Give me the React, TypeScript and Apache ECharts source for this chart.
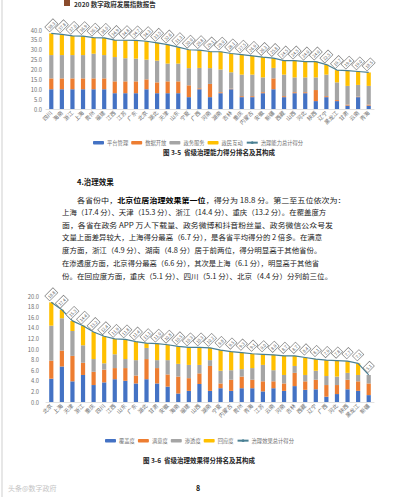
import React, { useEffect, useRef } from "react";
import * as echarts from "echarts";

// ---------- Chart 1: 省级治理能力 ----------
const cats1 = ["四川","海南","浙江","上海","贵州","福建","江西","江苏","广东","北京","湖北","天津","山东","宁夏","广西","河南","湖南","吉林","重庆","内蒙古","安徽","新疆","西藏","山西","河北","陕西","辽宁","黑龙江","甘肃","云南","青海"];
const platform1 = [10,10,10,10,10,10,8,8,8,10,8,8,8,6,10,6,8,10,6,6,8,10,6,8,8,4,6,4,1.7,6,1.7];
const dataOpen1 = [5.5,5.5,5.5,5.5,5.5,5.5,6,6,6,5,5.5,6,6,6,0.5,6.7,0.5,0.3,0.5,0.5,0.5,5.5,0.5,0.5,0.5,5.6,0.5,0.5,0.5,0.3,0.5];
const service1 = [11.8,11.8,11.8,11.8,12.5,11.8,12.3,11.7,11.5,10,11,9,9,8.7,10.3,8,11.5,8.3,10.9,10.9,7.5,5.3,10.9,7.5,7.5,6.4,10.9,9,9.5,5.9,9.5];
const interact1 = [11,10.5,9.7,9.6,8.1,8.7,8.6,9.1,9.2,9.3,9,9.6,8.3,9.3,9,8.4,9,9.5,10.1,9.5,10.3,5,7.1,8.5,8,8,5.1,6.2,7.7,6.8,6.8];
const yTicks1 = { min: 0, max: 40, interval: 5 };

// ---------- Chart 2: 省级治理效果 ----------
const cats2 = ["北京","上海","天津","浙江","重庆","四川","江西","山东","广东","湖北","甘肃","安徽","海南","福建","山西","湖南","宁夏","内蒙古","贵州","青海","江苏","云南","河南","吉林","西藏","辽宁","广西","河北","陕西","黑龙江","新疆"];
const coverage2 = [4.4,6.7,3.9,5.1,3.2,3.7,4.3,4.0,3.5,4.3,3.5,2.9,1.6,2.1,3.4,2.1,2.6,2.1,2.6,2.6,2.0,2.6,2.1,3.0,2.3,2.4,1.0,1.5,2.4,2.1,1.3];
const satisfaction2 = [3.4,3.0,4.8,2.3,2.5,2.4,2.1,2.4,1.5,3.8,2.9,2.3,3.2,2.4,2.0,4.7,0.9,2.1,2.2,1.6,1.9,1.3,1.4,2.5,1.6,1.8,2.2,1.7,1.8,1.8,2.2];
const penetration2 = [6.6,6.1,4.7,3.3,2.4,1.2,2.6,1.7,2.9,2.1,1.5,2.7,2.4,2.5,1.6,1.1,2.4,1.8,1.4,2.2,3.1,2.1,1.6,1.3,1.2,1.7,1.7,1.6,1.3,1.2,1.6];
const response2 = [4.4,1.6,1.9,3.7,5.1,5.1,2.9,3.7,3.5,0.9,3.1,2.9,3.3,3.3,3.3,2.3,3.9,3.5,3.1,2.7,2.0,2.9,3.6,1.9,3.3,2.2,3.0,3.0,2.2,2.2,0];
const yTicks2 = { min: 0, max: 20, interval: 2 };

const names1 = ["平台管理","数据开放","政务服务","政民互动","治理能力总计得分"];
const names2 = ["覆盖度","满意度","渗透度","回应度","治理效果总计得分"];

const paragraph = [
  "各省份中，{b|北京位居治理效果第一位}，得分为 18.8 分。第二至五位依次为：",
  "上海（17.4 分）、天津（15.3 分）、浙江（14.4 分）、重庆（13.2 分）。在覆盖度方",
  "面，各省在政务 APP 万人下载量、政务微博和抖音粉丝量、政务微信公众号发",
  "文量上面差异较大，上海得分最高（6.7 分），是各省平均得分的 2 倍多。在满意",
  "度方面，浙江（4.9 分）、湖南（4.8 分）居于前两位，得分明显高于其他省份。",
  "在渗透度方面，北京得分最高（6.6 分），其次是上海（6.1 分），明显高于其他省",
  "份。在回应度方面，重庆（5.1 分）、四川（5.1 分）、北京（4.4 分）分列前三位。",
];
// horizontal stretch of each line so the paragraph looks justified
const lineStretch = [1.15, 1.06, 1.13, 1.06, 1.07, 1.045, 1.08];

const COLORS = ["#4472C4", "#ED7D31", "#A5A5A5", "#FFC000"];
const LINE = "#4a8094";
const FONT = "'Noto Sans CJK SC', 'Noto Sans', sans-serif";

const sum = (arrs: number[][]) =>
  arrs[0].map((_, i) => +arrs.reduce((s, a) => s + a[i], 0).toFixed(1));

export default function App() {
  const ref = useRef<HTMLDivElement>(null);
  useEffect(() => {
    if (!ref.current) return;
    const chart = echarts.init(ref.current, undefined, { renderer: "svg" });
    const total1 = sum([platform1, dataOpen1, service1, interact1]);
    const total2 = sum([coverage2, satisfaction2, penetration2, response2]);

    const makeBars = (names: string[], data: number[][], idx: number) =>
      data.map((d, k) => ({
        name: names[k],
        type: "bar",
        stack: "s" + idx,
        xAxisIndex: idx,
        yAxisIndex: idx,
        barWidth: 4.2,
        itemStyle: { color: COLORS[k] },
        data: d,
      }));
    const makeLine = (name: string, data: number[], idx: number) => ({
      name,
      type: "line",
      xAxisIndex: idx,
      yAxisIndex: idx,
      symbol: "circle",
      symbolSize: 0.1,
      showSymbol: true,
      lineStyle: { color: LINE, width: 1.2 },
      itemStyle: { color: LINE },
      z: 5,
      data,
      label: {
        show: true,
        position: "top",
        distance: 8,
        rotate: 45,
        align: "center",
        verticalAlign: "middle",
        fontSize: 4.3,
        fontFamily: FONT,
        color: "#555",
        backgroundColor: "#fff",
        borderColor: "#7a7a7a",
        borderWidth: 0.6,
        padding: [1, 1.3],
        formatter: (p: any) => Number(p.value).toFixed(1),
      },
    });

    const xAxis = (cats: string[], idx: number) => ({
      type: "category",
      gridIndex: idx,
      data: cats,
      axisLine: { show: true, lineStyle: { color: "#d9d9d9", width: 0.8 } },
      axisTick: { show: false },
      axisLabel: {
        interval: 0,
        rotate: 45,
        fontSize: 5.5,
        margin: 3,
        color: "#707070",
        fontFamily: FONT,
      },
    });
    const yAxis = (t: any, idx: number, margin: number) => ({
      type: "value",
      gridIndex: idx,
      min: t.min,
      max: t.max,
      interval: t.interval,
      axisLine: { show: false },
      axisTick: { show: false },
      splitLine: { show: false },
      axisLabel: {
        fontSize: 5.8,
        margin,
        color: "#707070",
        fontFamily: FONT,
        formatter: (v: number) => v.toFixed(1),
      },
    });

    const legend = (names: string[], left: number, top: number) => ({
      data: names,
      left,
      top,
      itemWidth: 11,
      itemHeight: 3.5,
      itemGap: 3,
      textStyle: { fontSize: 5.3, color: "#707070", fontFamily: FONT, padding: [0, 0, 0, -2] },
    });

    const graphics: any[] = [
      { type: "line", shape: { x1: 2, y1: 0, x2: 2, y2: 497 }, style: { stroke: "#cfcfcf", lineWidth: 1 } },
      { type: "rect", shape: { x: 64, y: 0, width: 6, height: 6 }, style: { fill: "#8a4b2c" } },
      { type: "text", x: 74, y: 4, style: { text: "2020 数字政府发展指数报告", fontSize: 6.5, fontWeight: "bold", fill: "#333", fontFamily: FONT, textVerticalAlign: "middle" } },
      { type: "text", x: 219, y: 152, style: { text: "图 3-5  省级治理能力得分排名及其构成", fontSize: 6.5, fontWeight: "bold", fill: "#222", fontFamily: FONT, textAlign: "center", textVerticalAlign: "middle" } },
      { type: "text", x: 77, y: 181, style: { text: "4.治理效果", fontSize: 7.5, fontWeight: "bold", fill: "#111", fontFamily: FONT, textVerticalAlign: "middle" } },
      { type: "text", x: 199, y: 460, style: { text: "图 3-6  省级治理效果得分排名及其构成", fontSize: 6.5, fontWeight: "bold", fill: "#222", fontFamily: FONT, textAlign: "center", textVerticalAlign: "middle" } },
      { type: "text", x: 198, y: 488, style: { text: "8", fontSize: 7, fontWeight: "bold", fill: "#111", fontFamily: FONT, textAlign: "center", textVerticalAlign: "middle" } },
      { type: "text", x: 8, y: 488, style: { text: "头条@数字政府", fontSize: 7, fill: "#c4c4c4", fontFamily: FONT, textVerticalAlign: "middle" } },
    ];
    const lineYs = [200, 212.5, 225, 237.5, 250, 263, 276];
    paragraph.forEach((t, i) => {
      graphics.push({
        type: "text",
        x: i === 0 ? 77 : 62,
        y: lineYs[i],
        scaleX: lineStretch[i],
        scaleY: 1,
        style: {
          text: t,
          fontSize: 7,
          fill: "#222",
          fontFamily: FONT,
          textVerticalAlign: "middle",
          rich: { b: { fontSize: 7, fontWeight: "bold", fill: "#000", fontFamily: FONT } },
        },
      });
    });

    chart.setOption({
      animation: false,
      backgroundColor: "#fff",
      grid: [
        { left: 46, top: 30, width: 328, height: 79 },
        { left: 46, top: 296, width: 328, height: 106 },
      ],
      xAxis: [xAxis(cats1, 0), xAxis(cats2, 1)],
      yAxis: [yAxis(yTicks1, 0, 4), yAxis(yTicks2, 1, 7)],
      legend: [legend(names1, 88, 135), legend(names2, 100, 433)],
      series: [
        ...makeBars(names1, [platform1, dataOpen1, service1, interact1], 0),
        makeLine(names1[4], total1, 0),
        ...makeBars(names2, [coverage2, satisfaction2, penetration2, response2], 1),
        makeLine(names2[4], total2, 1),
      ],
      graphic: graphics,
    });
    return () => chart.dispose();
  }, []);
  return (
    <div
      ref={ref}
      style={{ position: "fixed", left: 0, top: 0, width: 395, height: 497 }}
    />
  );
}
